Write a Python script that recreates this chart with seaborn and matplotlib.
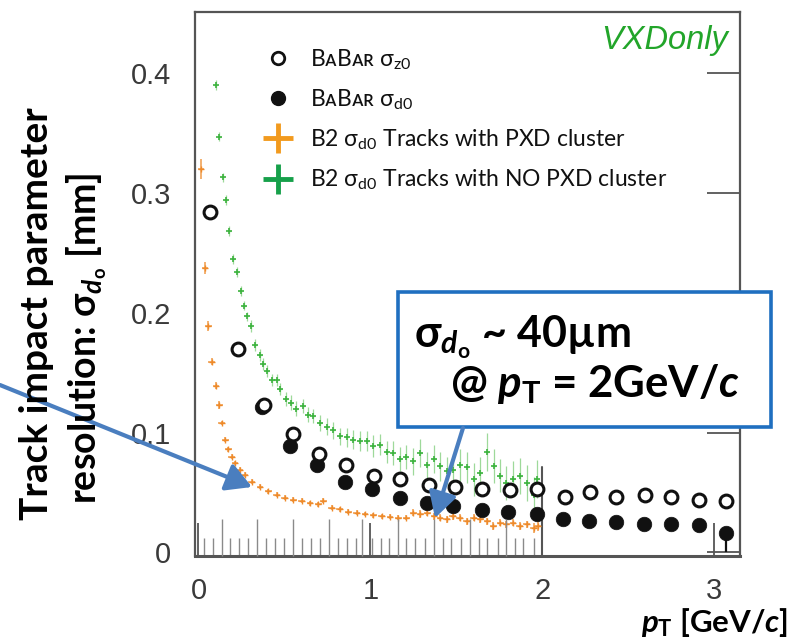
import numpy as np
import pandas as pd
import matplotlib
matplotlib.use("Agg")
import matplotlib.pyplot as plt
import seaborn as sns
from matplotlib.lines import Line2D
from matplotlib.patches import Rectangle, FancyArrowPatch

# ---------------- data ----------------
babar_z0_pt = [0.07, 0.23, 0.38, 0.55, 0.70, 0.86, 1.02, 1.17, 1.34, 1.49,
               1.65, 1.81, 1.97, 2.13, 2.28, 2.43, 2.60, 2.75, 2.91, 3.07]
babar_z0_res = [0.284, 0.170, 0.123, 0.099, 0.082, 0.073, 0.064, 0.061, 0.056, 0.055,
                0.0525, 0.052, 0.053, 0.046, 0.050, 0.046, 0.048, 0.046, 0.044, 0.043]

babar_d0_pt = [0.37, 0.53, 0.69, 0.85, 1.01, 1.17, 1.33, 1.48, 1.65, 1.80,
               1.97, 2.12, 2.27, 2.43, 2.59, 2.75, 2.91, 3.07]
babar_d0_res = [0.121, 0.089, 0.073, 0.059, 0.053, 0.045, 0.041, 0.039, 0.035, 0.034,
                0.032, 0.028, 0.026, 0.025, 0.024, 0.024, 0.023, 0.016]
babar_d0_err_low = [0, 0, 0, 0, 0, 0, 0, 0, 0, 0, 0, 0, 0, 0, 0, 0, 0, 0.016]

b2_pxd_pt = [0.015, 0.038, 0.058, 0.077, 0.102, 0.122, 0.135, 0.155, 0.174, 0.194,
             0.213, 0.242, 0.271, 0.31, 0.358, 0.406, 0.455, 0.503, 0.552, 0.60,
             0.649, 0.697, 0.726, 0.775, 0.823, 0.872, 0.92, 0.969, 1.017, 1.066,
             1.114, 1.162, 1.21, 1.25, 1.29, 1.33, 1.37, 1.405, 1.445, 1.48,
             1.52, 1.56, 1.60, 1.64, 1.68, 1.715, 1.755, 1.79, 1.83, 1.87,
             1.91, 1.95, 1.975]
b2_pxd_res = [0.32, 0.237, 0.189, 0.159, 0.139, 0.123, 0.108, 0.094, 0.086, 0.080,
              0.0747, 0.069, 0.065, 0.059, 0.055, 0.051, 0.048, 0.0456, 0.044, 0.043,
              0.041, 0.040, 0.043, 0.0373, 0.036, 0.034, 0.033, 0.032, 0.031, 0.030,
              0.0297, 0.029, 0.029, 0.033, 0.032, 0.033, 0.030, 0.029, 0.0275, 0.030,
              0.029, 0.026, 0.029, 0.0275, 0.026, 0.022, 0.0248, 0.0233, 0.0248, 0.022,
              0.0233, 0.0206, 0.022]
b2_pxd_err = [0.008, 0.005, 0.004, 0.003, 0.003, 0.003, 0.002, 0.002, 0.002, 0.002,
              0.002, 0.002, 0.002, 0.002, 0.002, 0.002, 0.002, 0.002, 0.002, 0.002,
              0.002, 0.002, 0.002, 0.002, 0.002, 0.002, 0.002, 0.002, 0.002, 0.002,
              0.002, 0.002, 0.002, 0.003, 0.003, 0.003, 0.003, 0.003, 0.003, 0.003,
              0.003, 0.003, 0.003, 0.003, 0.003, 0.003, 0.003, 0.003, 0.003, 0.003,
              0.003, 0.004, 0.004]

b2_nopxd_pt = [0.10, 0.122, 0.141, 0.159, 0.18, 0.203, 0.222, 0.246, 0.265, 0.28,
               0.304, 0.33, 0.358, 0.377, 0.40, 0.427, 0.455, 0.474, 0.51, 0.54,
               0.57, 0.61, 0.64, 0.668, 0.707, 0.746, 0.785, 0.823, 0.862, 0.90,
               0.94, 0.98, 1.017, 1.056, 1.095, 1.13, 1.17, 1.21, 1.25, 1.29,
               1.33, 1.37, 1.405, 1.445, 1.48, 1.52, 1.56, 1.60, 1.64, 1.68,
               1.72, 1.755, 1.79, 1.83, 1.87, 1.91, 1.95, 1.97]
b2_nopxd_res = [0.39, 0.347, 0.313, 0.294, 0.268, 0.245, 0.234, 0.218, 0.206, 0.197,
                0.189, 0.173, 0.165, 0.157, 0.151, 0.144, 0.144, 0.136, 0.128, 0.125,
                0.120, 0.122, 0.115, 0.114, 0.108, 0.105, 0.102, 0.097, 0.096, 0.094,
                0.093, 0.093, 0.089, 0.090, 0.084, 0.083, 0.078, 0.080, 0.076, 0.083,
                0.073, 0.078, 0.072, 0.068, 0.069, 0.073, 0.071, 0.061, 0.066, 0.084,
                0.072, 0.064, 0.058, 0.061, 0.064, 0.058, 0.048, 0.061]
b2_nopxd_err = [0.004, 0.004, 0.004, 0.004, 0.004, 0.004, 0.004, 0.004, 0.004, 0.004,
                0.005, 0.005, 0.005, 0.005, 0.005, 0.005, 0.005, 0.005, 0.006, 0.006,
                0.006, 0.006, 0.006, 0.006, 0.007, 0.007, 0.007, 0.007, 0.008, 0.008,
                0.008, 0.008, 0.009, 0.009, 0.009, 0.010, 0.010, 0.010, 0.011, 0.012,
                0.011, 0.012, 0.012, 0.012, 0.013, 0.013, 0.013, 0.014, 0.014, 0.016,
                0.014, 0.014, 0.014, 0.015, 0.015, 0.015, 0.015, 0.016]

x_ticks = [0, 1, 2, 3]
x_tick_labels = ["0", "1", "2", "3"]
y_ticks = [0, 0.1, 0.2, 0.3, 0.4]
y_tick_labels = ["0", "0.1", "0.2", "0.3", "0.4"]
b2_mid_ticks = [0.135, 0.342, 0.55, 0.757, 0.95, 1.16, 1.37, 1.58, 1.79]
b2_small_ticks = [0.031, 0.083, 0.186, 0.238, 0.29, 0.394, 0.446, 0.498, 0.602,
                  0.654, 0.706, 0.81, 0.862, 0.914, 1.01, 1.06, 1.11, 1.21, 1.26,
                  1.32, 1.42, 1.47, 1.53, 1.63, 1.68, 1.74, 1.84, 1.89, 1.95]
b2_x_max = 2.0

legend_labels = ["B\u1d00B\u1d00\u0280 \u03c3$_{\\mathsf{z0}}$",
                 "B\u1d00B\u1d00\u0280 \u03c3$_{\\mathsf{d0}}$",
                 "B2 \u03c3$_{\\mathsf{d0}}$ Tracks with PXD cluster",
                 "B2 \u03c3$_{\\mathsf{d0}}$ Tracks with NO PXD cluster"]

# ---------------- style ----------------
sns.set_theme(style="white")
plt.rcParams["font.family"] = ["Liberation Sans", "DejaVu Sans"]
plt.rcParams["mathtext.fontset"] = "custom"
plt.rcParams["mathtext.rm"] = "Lato:bold"
plt.rcParams["mathtext.it"] = "Lato:italic:bold"
plt.rcParams["mathtext.bf"] = "Lato:bold"
plt.rcParams["mathtext.sf"] = "Lato"
plt.rcParams["mathtext.fallback"] = "stixsans"

ORANGE = "#EE8A2A"
ORANGE_LEG = "#F29A1E"
GREEN = "#3DB33F"
GREEN_ERR = "#9ED99A"
GREEN_LEG = "#16A04A"
BLUE_BOX = "#1F6FC0"
BLUE_ARROW = "#4A7EBF"

W, H = 790, 638
fig = plt.figure(figsize=(W / 100, H / 100), dpi=100)
ax = fig.add_axes([195 / W, 1 - 556 / H, 545 / W, 544 / H])
ax.set_xlim(-0.02, 3.15)
ax.set_ylim(-0.003, 0.451)

# B2 error bars + points
ax.errorbar(b2_nopxd_pt, b2_nopxd_res, yerr=b2_nopxd_err, xerr=0.01, fmt="none",
            ecolor=GREEN_ERR, elinewidth=0.9, zorder=2)
ax.errorbar(b2_pxd_pt, b2_pxd_res, yerr=b2_pxd_err, xerr=0.02, fmt="none",
            ecolor=ORANGE, elinewidth=1.1, alpha=0.85, zorder=2)
sns.scatterplot(x=b2_nopxd_pt, y=b2_nopxd_res, ax=ax, marker="+", s=22,
                color=GREEN, linewidth=1.2, zorder=3)
sns.scatterplot(x=b2_pxd_pt, y=b2_pxd_res, ax=ax, marker="+", s=14,
                color=ORANGE, linewidth=1.0, zorder=3)

# BaBar points
ax.errorbar(babar_d0_pt, babar_d0_res, yerr=[babar_d0_err_low, [0] * len(babar_d0_pt)],
            fmt="none", ecolor="#111111", elinewidth=1.6, zorder=4)
sns.scatterplot(x=babar_d0_pt, y=babar_d0_res, ax=ax, marker="o", s=110,
                color="#111111", edgecolor="#111111", linewidth=0.5, zorder=5)
sns.scatterplot(x=babar_z0_pt, y=babar_z0_res, ax=ax, marker="o", s=85,
                facecolor="white", edgecolor="#111111", linewidth=2.2, zorder=6)

# B2 frame edge at pT = 2
ax.axvline(b2_x_max, ymin=0, ymax=(556 - 467) / 544, color="#555555", lw=1.5, zorder=1)

# ticks
ax.set_xticks(x_ticks, x_tick_labels)
ax.set_yticks(y_ticks, y_tick_labels)
ax.tick_params(axis="both", which="major", direction="in", length=24, width=1.3,
               color="#555555", labelsize=21, labelcolor="#3a3a3a")
ax.tick_params(axis="x", which="major", pad=15)
ax.tick_params(axis="y", which="major", pad=17, right=True)
ax.set_xticks(b2_small_ticks, minor=True)
ax.tick_params(axis="x", which="minor", direction="in", length=13, width=1.0,
               color="#8a8a8a", bottom=True)
ax2 = ax.twiny()
ax2.set_xlim(ax.get_xlim())
ax2.set_xticks(b2_mid_ticks)
ax2.xaxis.set_ticks_position("bottom")
ax2.tick_params(axis="x", direction="in", length=27, width=1.0, color="#8a8a8a",
                labelbottom=False, labeltop=False, bottom=True, top=False)
for s in ax2.spines.values():
    s.set_visible(False)
ax2.grid(False)
ax.grid(False)

for name, s in ax.spines.items():
    s.set_color("#555555")
    s.set_linewidth(1.6)
ax.spines["bottom"].set_linewidth(2.2)

# legend
handles = [
    Line2D([], [], ls="none", marker="o", ms=9, mfc="white", mec="#111111", mew=2.0),
    Line2D([], [], ls="none", marker="o", ms=10, mfc="#111111", mec="#111111"),
    Line2D([], [], ls="none", marker="+", ms=22, mec=ORANGE_LEG, mew=3.5),
    Line2D([], [], ls="none", marker="+", ms=22, mec=GREEN_LEG, mew=3.5),
]
leg = ax.legend(handles, legend_labels, loc="upper left",
                bbox_to_anchor=((258 - 195) / 545, (556 - 47) / 544),
                frameon=False, borderpad=0, borderaxespad=0,
                handlelength=1.75, handletextpad=0.5, labelspacing=0.68,
                prop={"family": ["Lato", "DejaVu Sans"], "size": 16.5})
for t in leg.get_texts():
    t.set_color("#111111")

# VXDonly tag
ax.text((728 - 195) / 545, (556 - 41) / 544, "VXDonly", transform=ax.transAxes,
        ha="right", va="center", color="#22A52A", style="italic", fontsize=23.5,
        family=["Liberation Sans", "DejaVu Sans"])

# axis titles
fig.text(37 / W, 1 - 314 / H, "Track impact parameter", rotation=90,
         ha="center", va="center", fontsize=28, fontweight="bold",
         family=["Lato", "DejaVu Sans"], color="black")
fig.text(87 / W, 1 - 338 / H, "resolution: \u03c3$_{\\mathit{d}_\\mathrm{o}}$ [mm]",
         rotation=90, ha="center", va="center", fontsize=27, fontweight="bold",
         family=["Lato", "DejaVu Sans"], color="black")
fig.text(788 / W, 1 - 632 / H, "$p_\\mathrm{T}$ [GeV/$c$]", ha="right",
         va="baseline", fontsize=22.5, fontweight="bold",
         family=["Lato", "DejaVu Sans"], color="black")

# annotation box
box = Rectangle((398 / W, 1 - 427 / H), 373 / W, 135 / H, transform=fig.transFigure,
                facecolor="white", edgecolor=BLUE_BOX, lw=2.6, zorder=20)
fig.add_artist(box)
fig.text(414 / W, 1 - 337 / H, "\u03c3$_{\\mathit{d}_\\mathrm{o}}$ ~ 40\u00b5m",
         ha="left", va="center", fontsize=31, fontweight="bold",
         family=["Lato", "DejaVu Sans"], color="black", zorder=21)
fig.text(450 / W, 1 - 384 / H, "@ $p_\\mathrm{T}$ = 2GeV/$c$",
         ha="left", va="center", fontsize=31.5, fontweight="bold",
         family=["Lato", "DejaVu Sans"], color="black", zorder=21)

# arrows
arrow_kw = dict(arrowstyle="-|>,head_length=0.9,head_width=0.5", color=BLUE_ARROW,
                lw=3.0, mutation_scale=17, shrinkA=0, shrinkB=0)
ax.annotate("", xy=(252 / W, 1 - 487 / H), xycoords="figure fraction",
            xytext=(0, 1 - 385 / H), textcoords="figure fraction",
            arrowprops=arrow_kw, zorder=30, annotation_clip=False)
fig.add_artist(FancyArrowPatch((463 / W, 1 - 428 / H), (435 / W, 1 - 518 / H),
                               transform=fig.transFigure, zorder=22, **arrow_kw))

fig.savefig("out.png", dpi=100)
